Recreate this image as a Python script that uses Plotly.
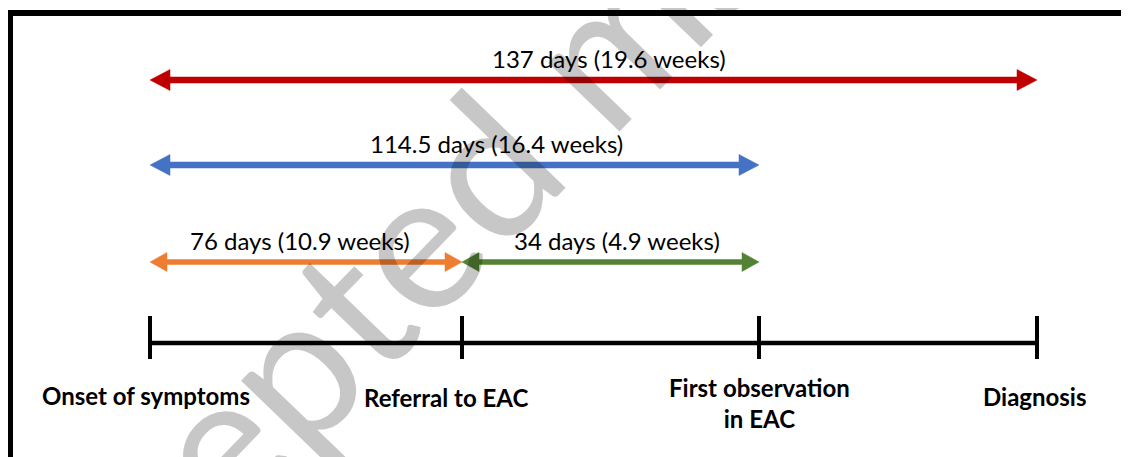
import plotly.graph_objects as go

# ---- data ----
events = ["Onset of symptoms", "Referral to EAC", "First observation<br>in EAC", "Diagnosis"]
event_pos = [150, 462, 759, 1037]          # schematic positions on the timeline

interval_labels = ["137 days (19.6 weeks)", "114.5 days (16.4 weeks)",
                   "76 days (10.9 weeks)", "34 days (4.9 weeks)"]
interval_start = [0, 0, 0, 1]               # index into events
interval_end = [3, 2, 1, 2]
interval_colors = ["#C00000", "#4472C4", "#ED7D31", "#548235"]

# ---- layout helpers (pixel-like units) ----
row_y = [80, 165, 262, 262]
label_dx = [15, 42, -6, 6]
label_dy = -22
head_len = [20, 20, 17, 17]
head_h = [21, 21, 19, 19]
body_w = [6, 6, 5, 5]
timeline_y = 343
event_label_y = [395, 397, 403, 396]
event_label_dx = [-4, -16, 0, -2]

fig = go.Figure()

for i, lab in enumerate(interval_labels):
    x0 = event_pos[interval_start[i]]
    x1 = event_pos[interval_end[i]]
    y = row_y[i]
    L, H, w = head_len[i], head_h[i] / 2, body_w[i] / 2
    xs = [x0, x0 + L, x0 + L, x1 - L, x1 - L, x1, x1 - L, x1 - L, x0 + L, x0 + L, x0]
    ys = [y, y - H, y - w, y - w, y - H, y, y + H, y + w, y + w, y + H, y]
    fig.add_trace(go.Scatter(x=xs, y=ys, mode="lines", fill="toself",
                             fillcolor=interval_colors[i],
                             line=dict(color=interval_colors[i], width=0.5),
                             hoverinfo="skip", showlegend=False))
    fig.add_annotation(x=(x0 + x1) / 2 + label_dx[i], y=y + label_dy, text=lab,
                       showarrow=False, xanchor="center", yanchor="middle",
                       font=dict(family="Lato", size=24, color="black"))

# timeline
fig.add_trace(go.Scatter(x=[event_pos[0], event_pos[-1]], y=[timeline_y, timeline_y],
                         mode="lines", line=dict(color="black", width=4.5),
                         hoverinfo="skip", showlegend=False))
for i, ev in enumerate(events):
    fig.add_trace(go.Scatter(x=[event_pos[i], event_pos[i]],
                             y=[timeline_y - 27, timeline_y + 16],
                             mode="lines", line=dict(color="black", width=4),
                             hoverinfo="skip", showlegend=False))
    fig.add_annotation(x=event_pos[i] + event_label_dx[i], y=event_label_y[i], text="<b>" + ev + "</b>",
                       showarrow=False, xanchor="center", yanchor="middle",
                       font=dict(family="Lato", size=24, color="black"))

# frame (top and left border)
fig.add_shape(type="line", x0=7, x1=1129, y0=13, y1=13, xref="x", yref="y",
              line=dict(color="black", width=6))
fig.add_shape(type="line", x0=10, x1=10, y0=10, y1=457, xref="x", yref="y",
              line=dict(color="black", width=6))

# watermark
fig.add_annotation(x=588, y=55, text="Accepted manuscript", showarrow=False,
                   textangle=-46, xanchor="center", yanchor="middle",
                   font=dict(family="Lato", size=196, color="rgba(0,0,0,0.22)"))

# the page places the figure 8px from the window corner; ranges compensate
fig.update_layout(width=1121, height=449, margin=dict(l=0, r=0, t=0, b=0),
                  paper_bgcolor="white", plot_bgcolor="white",
                  xaxis=dict(range=[8, 1129], visible=False),
                  yaxis=dict(range=[457, 8], visible=False))

fig.write_html("out.html")
